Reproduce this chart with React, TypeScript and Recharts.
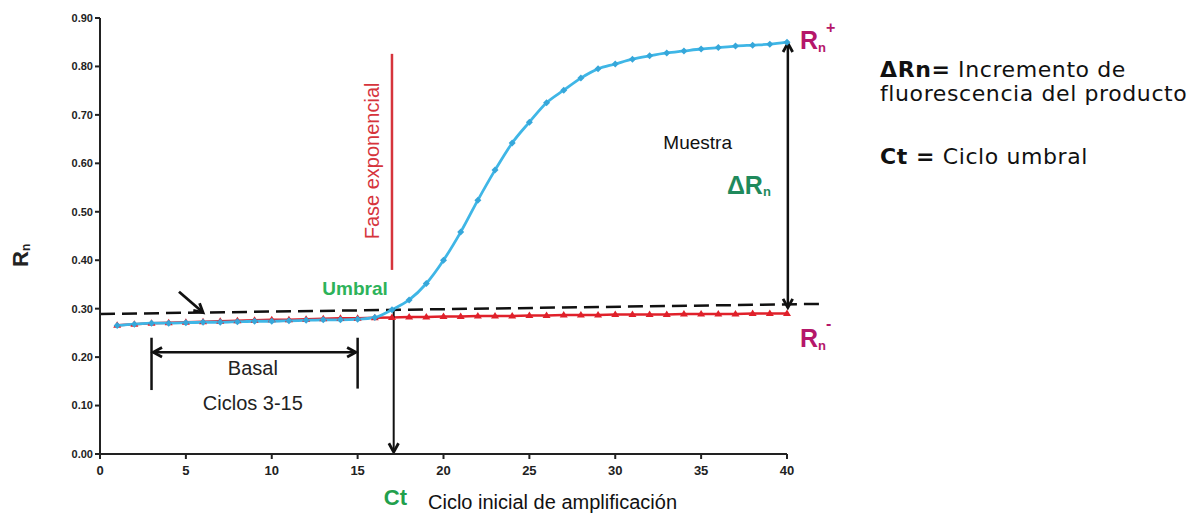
import React from 'react';
import { ComposedChart, Line, XAxis, YAxis, ReferenceLine } from 'recharts';

// ciclos de amplificación
const cycles = [
  1, 2, 3, 4, 5, 6, 7, 8, 9, 10, 11, 12, 13, 14, 15, 16, 17, 18, 19, 20,
  21, 22, 23, 24, 25, 26, 27, 28, 29, 30, 31, 32, 33, 34, 35, 36, 37, 38, 39, 40,
];

// Rn de la muestra (curva azul)
const muestra = [
  0.265, 0.268, 0.27, 0.27, 0.271, 0.272, 0.272, 0.273, 0.274, 0.274,
  0.275, 0.276, 0.277, 0.277, 0.278, 0.282, 0.298, 0.318, 0.352, 0.4,
  0.458, 0.524, 0.586, 0.642, 0.685, 0.725, 0.751, 0.776, 0.795, 0.805,
  0.815, 0.822, 0.828, 0.832, 0.836, 0.839, 0.842, 0.844, 0.846, 0.85,
];

// Rn sin amplificación (curva roja)
const control = [
  0.266, 0.268, 0.27, 0.271, 0.272, 0.273, 0.274, 0.275, 0.276, 0.277,
  0.277, 0.278, 0.279, 0.28, 0.28, 0.281, 0.282, 0.283, 0.283, 0.284,
  0.284, 0.285, 0.285, 0.285, 0.286, 0.286, 0.287, 0.287, 0.287, 0.288,
  0.288, 0.288, 0.288, 0.289, 0.289, 0.289, 0.289, 0.29, 0.29, 0.29,
];

const xTicks = [0, 5, 10, 15, 20, 25, 30, 35, 40];
const yTicks = [0, 0.1, 0.2, 0.3, 0.4, 0.5, 0.6, 0.7, 0.8, 0.9];

const data = cycles.map((c, i) => ({ cycle: c, muestra: muestra[i], control: control[i] }));

const ARIAL = '"Liberation Sans", Arial, sans-serif';

const head = (x: number, y: number, ang: number, size = 10) => {
  const a1 = ang + Math.PI - 0.5;
  const a2 = ang + Math.PI + 0.5;
  return `${x + size * Math.cos(a1)},${y + size * Math.sin(a1)} ${x},${y} ${x + size * Math.cos(a2)},${y + size * Math.sin(a2)}`;
};

const arrowShape =
  (start: boolean, end: boolean, width = 2) =>
  (p: any) => {
    const { x1, y1, x2, y2 } = p;
    const ang = Math.atan2(y2 - y1, x2 - x1);
    return (
      <g>
        <line x1={x1} y1={y1} x2={x2} y2={y2} stroke="#111" strokeWidth={width} />
        {end && <polyline points={head(x2, y2, ang)} fill="none" stroke="#111" strokeWidth={2.8} />}
        {start && <polyline points={head(x1, y1, ang + Math.PI)} fill="none" stroke="#111" strokeWidth={2.8} />}
      </g>
    );
  };

const plainShape = (color: string, width: number, dash?: string) => (p: any) => (
  <line x1={p.x1} y1={p.y1} x2={p.x2} y2={p.y2} stroke={color} strokeWidth={width} strokeDasharray={dash} />
);

const textShape =
  (content: React.ReactNode, style: any, anchor = 'middle', rotate = 0) =>
  (p: any) => (
    <text
      x={p.x1}
      y={p.y1}
      textAnchor={anchor}
      dominantBaseline="central"
      transform={rotate ? `rotate(${rotate} ${p.x1} ${p.y1})` : undefined}
      style={style}
    >
      {content}
    </text>
  );

const BlueDot = (props: any) => {
  const { cx, cy, index } = props;
  return <path key={`b${index}`} d={`M${cx},${cy - 3.5} L${cx + 3.5},${cy} L${cx},${cy + 3.5} L${cx - 3.5},${cy} Z`} fill="#36a7da" />;
};

const RedDot = (props: any) => {
  const { cx, cy, index } = props;
  return <path key={`r${index}`} d={`M${cx},${cy - 4} L${cx + 4},${cy + 2.5} L${cx - 4},${cy + 2.5} Z`} fill="#e0202a" />;
};

const note = (x: number, y: number, shape: any, key: string) => (
  <ReferenceLine key={key} segment={[{ x, y }, { x, y }]} ifOverflow="visible" shape={shape} />
);

const seg = (x1: number, y1: number, x2: number, y2: number, shape: any, key: string) => (
  <ReferenceLine key={key} segment={[{ x: x1, y: y1 }, { x: x2, y: y2 }]} ifOverflow="visible" shape={shape} />
);

export default function App() {
  return (
    <div style={{ position: 'relative', width: 1188, height: 510, background: '#fff' }}>
      <ComposedChart
        width={1188}
        height={510}
        data={data}
        margin={{ top: 10, right: 409, left: 32, bottom: 34 }}
      >
        <XAxis
          dataKey="cycle"
          type="number"
          domain={[0, 40]}
          ticks={xTicks}
          height={30}
          axisLine={{ stroke: '#222', strokeWidth: 2 }}
          tickLine={{ stroke: '#222', strokeWidth: 2 }}
          tickSize={5}
          tick={{ fill: '#222', fontSize: 13, fontWeight: 'bold', fontFamily: ARIAL, dy: 5 }}
        />
        <YAxis
          type="number"
          domain={[0, 0.9]}
          ticks={yTicks}
          width={60}
          axisLine={{ stroke: '#222', strokeWidth: 2 }}
          tickLine={{ stroke: '#222', strokeWidth: 2 }}
          tickSize={5}
          tickFormatter={(v: number) => v.toFixed(2)}
          tick={{ fill: '#222', fontSize: 11, fontWeight: 'bold', fontFamily: ARIAL }}
        />

        {/* fase exponencial */}
        {seg(17, 0.826, 17, 0.38, plainShape('#d6343c', 2.5), 'fase')}
        {note(15.85, 0.605, textShape('Fase exponencial', { fill: '#d6343c', fontSize: 20, fontFamily: ARIAL }, 'middle', -90), 'faseT')}

        {/* umbral */}
        {seg(0, 0.289, 42.2, 0.31, plainShape('#111', 2.5, '15 7'), 'umbral')}
        {seg(4.6, 0.335, 6.0, 0.292, arrowShape(false, true, 2.8), 'flecha')}

        <Line
          dataKey="control"
          type="linear"
          stroke="#e0202a"
          strokeWidth={2.5}
          dot={RedDot}
          activeDot={false}
          isAnimationActive={false}
        />
        <Line
          dataKey="muestra"
          type="monotone"
          stroke="#3fb6e6"
          strokeWidth={2.8}
          dot={BlueDot}
          activeDot={false}
          isAnimationActive={false}
        />

        {/* basal */}
        {seg(3, 0.24, 3, 0.132, plainShape('#111', 2.5), 'b1')}
        {seg(15, 0.24, 15, 0.135, plainShape('#111', 2.5), 'b2')}
        {seg(3.1, 0.21, 14.9, 0.21, arrowShape(true, true, 2.5), 'b3')}
        {note(8.9, 0.178, textShape('Basal', { fill: '#222', fontSize: 20, fontFamily: ARIAL }), 'basalT')}
        {note(8.9, 0.105, textShape('Ciclos 3-15', { fill: '#222', fontSize: 20, fontFamily: ARIAL }), 'ciclosT')}

        {/* Ct */}
        {seg(17.1, 0.3, 17.1, 0.004, arrowShape(false, true, 2), 'ct')}
        {note(14.85, 0.342, textShape('Umbral', { fill: '#2db35a', fontSize: 19, fontWeight: 'bold', fontFamily: ARIAL }), 'umbralT')}
        {note(17.2, -0.09, textShape('Ct', { fill: '#22a04c', fontSize: 22, fontWeight: 'bold', fontFamily: ARIAL }), 'ctT')}
        {note(19.1, -0.1, textShape('Ciclo inicial de amplificación', { fill: '#111', fontSize: 20, fontFamily: ARIAL }, 'start'), 'ejeX')}

        {/* ΔRn */}
        {seg(40.05, 0.302, 40.05, 0.848, arrowShape(true, true, 2.5), 'drn')}
        {note(34.8, 0.642, textShape('Muestra', { fill: '#111', fontSize: 19, fontFamily: ARIAL }), 'muestraT')}
        {note(
          36.5,
          0.555,
          textShape(
            <>
              ΔR<tspan dy={6} fontSize={13}>n</tspan>
            </>,
            { fill: '#1f8a5c', fontSize: 25, fontWeight: 'bold', fontFamily: ARIAL },
            'start',
          ),
          'drnT',
        )}
        {note(
          40.75,
          0.855,
          textShape(
            <>
              R<tspan dy={7} fontSize={13}>n</tspan>
              <tspan dy={-20} fontSize={16}>+</tspan>
            </>,
            { fill: '#b5176a', fontSize: 25, fontWeight: 'bold', fontFamily: ARIAL },
            'start',
          ),
          'rplus',
        )}
        {note(
          40.75,
          0.24,
          textShape(
            <>
              R<tspan dy={7} fontSize={13}>n</tspan>
              <tspan dy={-22} fontSize={16}>-</tspan>
            </>,
            { fill: '#b5176a', fontSize: 25, fontWeight: 'bold', fontFamily: ARIAL },
            'start',
          ),
          'rminus',
        )}

        {/* eje Y */}
        {note(
          -4.6,
          0.41,
          textShape(
            <>
              R<tspan dy={5} fontSize={12}>n</tspan>
            </>,
            { fill: '#222', fontSize: 22, fontWeight: 'bold', fontFamily: ARIAL },
            'middle',
            -90,
          ),
          'rn',
        )}
      </ComposedChart>

      <div
        style={{
          position: 'absolute',
          left: 872,
          top: 50,
          fontFamily: '"DejaVu Sans", sans-serif',
          fontSize: 22,
          letterSpacing: 0.6,
          lineHeight: '24px',
          color: '#111',
        }}
      >
        <div>
          <b>ΔRn=</b> Incremento de
        </div>
        <div>fluorescencia del producto</div>
        <div style={{ marginTop: 39 }}>
          <b>Ct =</b> Ciclo umbral
        </div>
      </div>
    </div>
  );
}
